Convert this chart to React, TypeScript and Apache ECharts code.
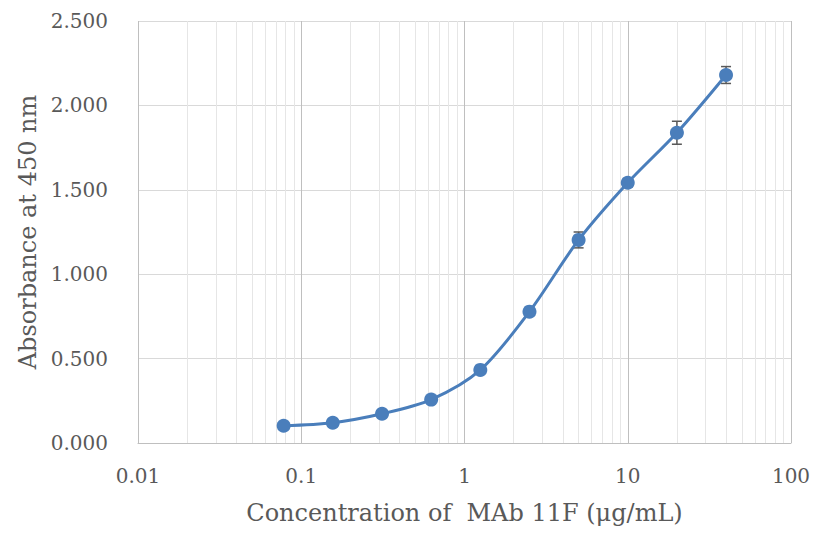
import React, { useEffect, useRef } from "react";
import * as echarts from "echarts";

const concentrations = [0.078, 0.156, 0.3125, 0.625, 1.25, 2.5, 5, 10, 20, 40];
const absorbance = [0.102, 0.12, 0.173, 0.257, 0.433, 0.778, 1.203, 1.542, 1.838, 2.18];
const errors = [0.005, 0.005, 0.008, 0.008, 0.01, 0.012, 0.047, 0.025, 0.068, 0.05];
const xTicks = [0.01, 0.1, 1, 10, 100];
const yTicks = [0, 0.5, 1, 1.5, 2, 2.5];

const FONT = "'DejaVu Serif', 'Liberation Serif', serif";
const TEXT = "#595959";
const BLUE = "#4a7ebb";

const minorLines: number[] = [];
for (let d = 0; d < xTicks.length - 1; d++) {
  for (let k = 2; k <= 9; k++) minorLines.push(+(k * xTicks[d]).toPrecision(3));
}

export default function App() {
  const ref = useRef<HTMLDivElement>(null);
  useEffect(() => {
    if (!ref.current) return;
    document.body.style.margin = "0";
    document.body.style.overflow = "hidden";
    const chart = echarts.init(ref.current, undefined, { renderer: "svg" });
    chart.setOption({
      animation: false,
      backgroundColor: "#ffffff",
      grid: { left: 138, right: 24, top: 21, bottom: 90, containLabel: false },
      xAxis: {
        type: "log",
        logBase: 10,
        min: xTicks[0],
        max: xTicks[xTicks.length - 1],
        name: "Concentration of  MAb 11F (\u03bcg/mL)",
        nameLocation: "middle",
        nameGap: 58,
        nameTextStyle: { fontFamily: FONT, fontSize: 24, color: TEXT },
        axisLine: { show: true, lineStyle: { color: "#bfbfbf", width: 1 } },
        axisTick: { show: false },
        axisLabel: {
          margin: 23,
          fontFamily: FONT,
          fontSize: 20,
          color: TEXT,
          formatter: (v: number) => String(v),
        },
        splitLine: { show: true, lineStyle: { color: "#bfbfbf", width: 1 } },
      },
      yAxis: {
        type: "value",
        min: yTicks[0],
        max: yTicks[yTicks.length - 1],
        interval: 0.5,
        name: "Absorbance at 450 nm",
        nameLocation: "middle",
        nameGap: 97,
        nameRotate: 90,
        nameTextStyle: { fontFamily: FONT, fontSize: 24, color: TEXT },
        axisLine: { show: false },
        axisTick: { show: false },
        axisLabel: {
          margin: 30,
          fontFamily: FONT,
          fontSize: 20,
          color: TEXT,
          formatter: (v: number) => v.toFixed(3),
        },
        splitLine: { show: true, lineStyle: { color: "#d9d9d9", width: 1 } },
      },
      series: [
        {
          type: "line",
          data: [],
          silent: true,
          z: 0,
          markLine: {
            z: 0,
            silent: true,
            symbol: "none",
            label: { show: false },
            lineStyle: { color: "#e6e6e6", width: 1, type: "solid" },
            data: minorLines.map((v) => ({ xAxis: v })),
          },
        },
        {
          type: "custom",
          z: 2,
          data: concentrations.map((c, i) => [c, absorbance[i], errors[i]]),
          renderItem: (params: any, api: any) => {
            const x = api.value(0);
            const y = api.value(1);
            const e = api.value(2);
            const top = api.coord([x, y + e]);
            const bot = api.coord([x, y - e]);
            const w = 5;
            const style = { stroke: "#595959", lineWidth: 1.5 };
            return {
              type: "group",
              children: [
                { type: "line", shape: { x1: top[0], y1: top[1], x2: bot[0], y2: bot[1] }, style },
                { type: "line", shape: { x1: top[0] - w, y1: top[1], x2: top[0] + w, y2: top[1] }, style },
                { type: "line", shape: { x1: bot[0] - w, y1: bot[1], x2: bot[0] + w, y2: bot[1] }, style },
              ],
            };
          },
        },
        {
          type: "line",
          data: concentrations.map((c, i) => [c, absorbance[i]]),
          smooth: 0.3,
          symbol: "circle",
          symbolSize: 14,
          z: 3,
          lineStyle: { color: BLUE, width: 3 },
          itemStyle: { color: BLUE },
        },
      ],
    });
    return () => chart.dispose();
  }, []);
  return (
    <div
      ref={ref}
      style={{ position: "fixed", left: 0, top: 0, width: 815, height: 533 }}
    />
  );
}
